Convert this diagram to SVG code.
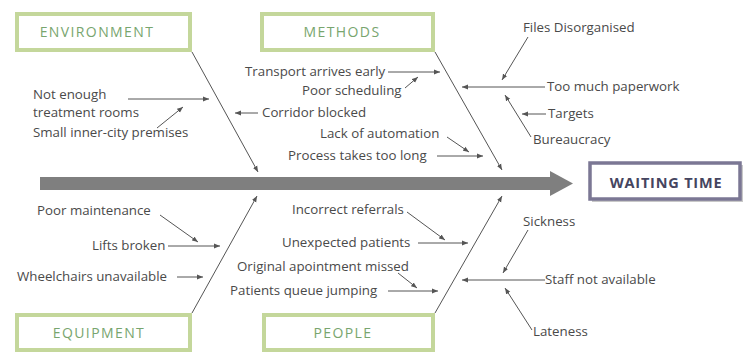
<svg xmlns="http://www.w3.org/2000/svg" width="744" height="353" viewBox="0 0 744 353">
<defs>
<marker id="ah" viewBox="0 0 6 6" refX="6" refY="3" markerWidth="6" markerHeight="6" orient="auto" markerUnits="userSpaceOnUse"><path d="M0,0.6 L6,3 L0,5.4z" fill="#555"/></marker>
<style>
.lbl{font-family:"Open Sans","Liberation Sans",sans-serif;font-size:13.3px;fill:#4a4a4a}
.cat{font-family:"Open Sans","Liberation Sans",sans-serif;font-size:14px;fill:#78a56e;letter-spacing:1.4px;text-anchor:middle}
.cbox{fill:#fff;stroke:#c4d79b;stroke-width:4}
.ln{stroke:#555;stroke-width:1;fill:none}
.ar{stroke:#555;stroke-width:1;fill:none;marker-end:url(#ah)}
</style>
</defs>
<rect width="744" height="353" fill="#fff"/>
<g id="spine">
<rect x="40" y="177" width="512" height="13" fill="#7f7f7f"/>
<polygon points="550,171 573,183.5 550,196" fill="#7f7f7f"/>
</g>
<g id="connectors">
<line class="ar" x1="192" y1="52" x2="258" y2="172"/>
<line class="ar" x1="435" y1="52" x2="502" y2="170"/>
<line class="ar" x1="192" y1="313" x2="257" y2="196"/>
<line class="ar" x1="435" y1="313" x2="502" y2="196"/>
<line class="ar" x1="128" y1="99" x2="209" y2="99"/>
<line class="ar" x1="157" y1="128" x2="183" y2="107"/>
<line class="ar" x1="258" y1="113" x2="235" y2="113"/>
<line class="ar" x1="388" y1="72" x2="440" y2="72"/>
<line class="ar" x1="405" y1="88" x2="418" y2="77"/>
<line class="ar" x1="447" y1="137" x2="469" y2="152"/>
<line class="ar" x1="437" y1="156" x2="483" y2="156"/>
<line class="ar" x1="545" y1="87" x2="462" y2="87"/>
<line class="ar" x1="528" y1="37" x2="502" y2="80"/>
<line class="ar" x1="546" y1="114" x2="522" y2="114"/>
<line class="ar" x1="531" y1="137" x2="505" y2="95"/>
<line class="ar" x1="160" y1="215" x2="198" y2="242"/>
<line class="ar" x1="168" y1="246" x2="220" y2="246"/>
<line class="ar" x1="177" y1="277" x2="203" y2="277"/>
<line class="ar" x1="407" y1="212" x2="445" y2="240"/>
<line class="ar" x1="418" y1="243" x2="468" y2="243"/>
<line class="ar" x1="398" y1="273" x2="417" y2="288"/>
<line class="ar" x1="388" y1="291" x2="438" y2="291"/>
<line class="ar" x1="545" y1="280" x2="462" y2="280"/>
<line class="ar" x1="528" y1="230" x2="503" y2="273"/>
<line class="ar" x1="532" y1="330" x2="505" y2="288"/>
</g>
<g id="environment"><rect class="cbox" x="17" y="14" width="173" height="36"/><text class="cat" x="97" y="37">ENVIRONMENT</text></g>
<g id="methods"><rect class="cbox" x="262" y="14" width="171" height="36"/><text class="cat" x="342" y="37">METHODS</text></g>
<g id="equipment"><rect class="cbox" x="17" y="315" width="173" height="35"/><text class="cat" x="99" y="338">EQUIPMENT</text></g>
<g id="people"><rect class="cbox" x="264" y="315" width="169" height="35"/><text class="cat" x="343" y="338">PEOPLE</text></g>
<g id="waiting-time">
<rect x="592" y="165" width="151" height="37" fill="#c8c8c8"/>
<rect x="590" y="163" width="150" height="36" fill="#fff" stroke="#7b7794" stroke-width="3.5"/>
<text x="666" y="188" text-anchor="middle" style="font-family:'Open Sans','Liberation Sans',sans-serif;font-size:14.5px;font-weight:bold;fill:#45455f;letter-spacing:0.8px">WAITING TIME</text>
</g>
<g id="labels">
<text class="lbl" x="33" y="98.5">Not enough</text>
<text class="lbl" x="33" y="116.5">treatment rooms</text>
<text class="lbl" x="33" y="137">Small inner-city premises</text>
<text class="lbl" x="245" y="76">Transport arrives early</text>
<text class="lbl" x="302" y="95">Poor scheduling</text>
<text class="lbl" x="262" y="117">Corridor blocked</text>
<text class="lbl" x="320" y="138">Lack of automation</text>
<text class="lbl" x="288" y="160">Process takes too long</text>
<text class="lbl" x="523" y="32">Files Disorganised</text>
<text class="lbl" x="547" y="91">Too much paperwork</text>
<text class="lbl" x="548" y="118">Targets</text>
<text class="lbl" x="533" y="144">Bureaucracy</text>
<text class="lbl" x="37" y="215">Poor maintenance</text>
<text class="lbl" x="92" y="250">Lifts broken</text>
<text class="lbl" x="17" y="281">Wheelchairs unavailable</text>
<text class="lbl" x="292" y="214">Incorrect referrals</text>
<text class="lbl" x="282" y="247">Unexpected patients</text>
<text class="lbl" x="237" y="271">Original apointment missed</text>
<text class="lbl" x="230" y="295">Patients queue jumping</text>
<text class="lbl" x="523" y="226">Sickness</text>
<text class="lbl" x="545" y="284">Staff not available</text>
<text class="lbl" x="533" y="336">Lateness</text>
</g>
</svg>
